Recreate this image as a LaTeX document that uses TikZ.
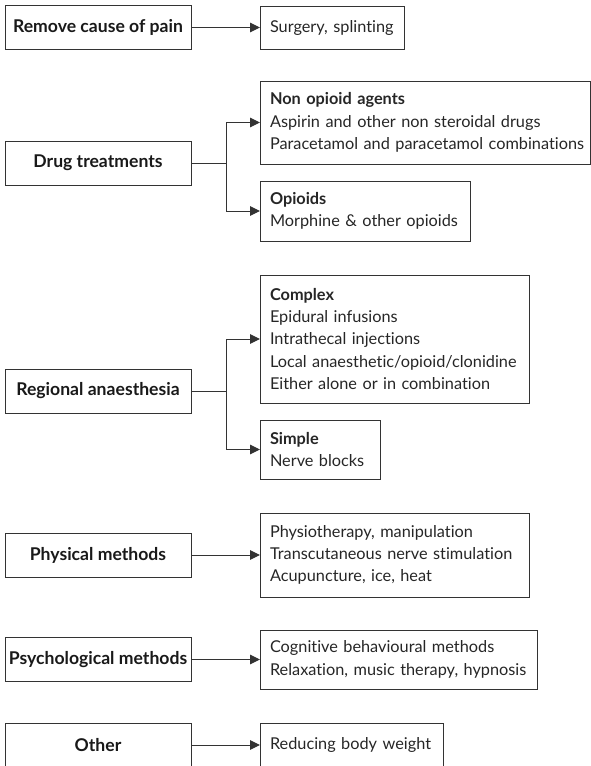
\documentclass[tikz,border=0pt]{standalone}
\usepackage{fontspec}
\setmainfont{Lato}[Ligatures={NoCommon}]
\usetikzlibrary{arrows.meta}
\begin{document}
\begin{tikzpicture}[x=1pt,y=-1pt,
  box/.style={draw=black!80, line width=1pt, inner sep=0pt, outer sep=0pt},
  lbox/.style={box, minimum width=186pt, minimum height=44pt,
    font=\fontsize{17.6}{22}\selectfont\bfseries, text=black!90},
  rbox/.style={box, anchor=north west, align=left, inner xsep=10pt,
    font=\fontsize{16.3}{22.3}\selectfont, text=black!85},
  arr/.style={line width=1pt, draw=black!80, -{Triangle[length=10pt,width=9.5pt]}}
]
\useasboundingbox (0,0) rectangle (591,766);

% left boxes
\node[lbox] (remove) at (98,27.5) {Remove cause of pain};
\node[lbox] (drug) at (98,163) {Drug treatments};
\node[lbox] (regional) at (98,391) {Regional anaesthesia};
\node[lbox] (physical) at (98,555) {Physical methods};
\node[lbox] (psych) at (98,659.5) {Psychological methods};
\node[lbox] (other) at (98,745) {Other};

% right boxes
\node[rbox, minimum width=144pt, minimum height=43pt, text width=124pt] (surg) at (260,6) {Surgery, splinting};
\node[rbox, minimum width=330pt, minimum height=83pt, text width=310pt] (nonop) at (260,81)
  {\textbf{Non opioid agents}\\\mbox{Aspirin and other non steroidal drugs}\\\mbox{Paracetamol and paracetamol combinations}};
\node[rbox, minimum width=210pt, minimum height=60pt, text width=190pt] (opi) at (260,181)
  {\textbf{Opioids}\\Morphine \& other opioids};
\node[rbox, minimum width=269pt, minimum height=128pt, text width=249pt] (complex) at (260,275)
  {\textbf{Complex}\\Epidural infusions\\Intrathecal injections\\Local anaesthetic/opioid/clonidine\\Either alone or in combination};
\node[rbox, minimum width=120pt, minimum height=59pt, text width=100pt] (simple) at (260,420)
  {\textbf{Simple}\\Nerve blocks};
\node[rbox, minimum width=269pt, minimum height=84pt, text width=249pt] (physR) at (260,513)
  {Physiotherapy, manipulation\\Transcutaneous nerve stimulation\\Acupuncture, ice, heat};
\node[rbox, minimum width=277pt, minimum height=59pt, text width=257pt] (psychR) at (260,630)
  {Cognitive behavioural methods\\Relaxation, music therapy, hypnosis};
\node[rbox, minimum width=183pt, minimum height=44pt, text width=163pt] (otherR) at (260,723)
  {Reducing body weight};

% connectors
\draw[arr] (remove.east) -- (remove.east -| surg.west);
\draw[arr] (drug.east) -- ++(35,0) |- (nonop.west);
\draw[arr] (drug.east) -- ++(35,0) |- (opi.west);
\draw[arr] (regional.east) -- ++(35,0) |- (complex.west);
\draw[arr] (regional.east) -- ++(35,0) |- (simple.west);
\draw[arr] (physical.east) -- (physical.east -| physR.west);
\draw[arr] (psych.east) -- (psych.east -| psychR.west);
\draw[arr] (other.east) -- (other.east -| otherR.west);
\end{tikzpicture}
\end{document}
